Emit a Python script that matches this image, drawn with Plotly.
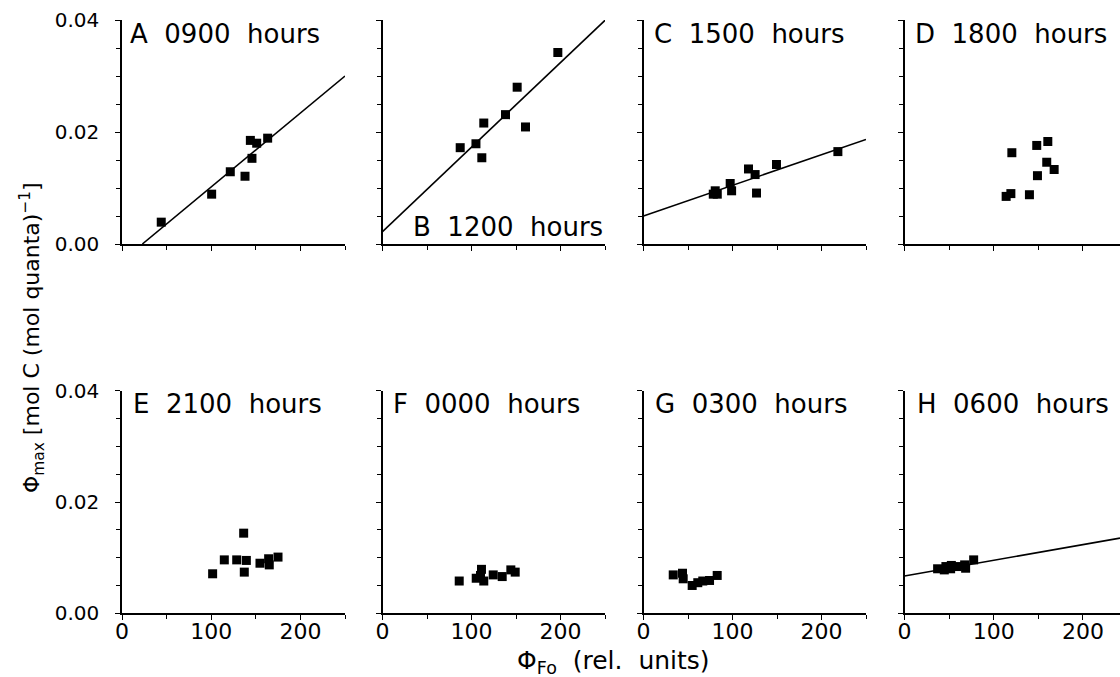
import plotly.graph_objects as go

W, H = 1120, 677
FONT = "DejaVu Sans"

# ---------------- data ----------------
labels = ["A\u00a0\u00a00900\u00a0\u00a0hours", "B\u00a0\u00a01200\u00a0\u00a0hours",
          "C\u00a0\u00a01500\u00a0\u00a0hours", "D\u00a0\u00a01800\u00a0\u00a0hours",
          "E\u00a0\u00a02100\u00a0\u00a0hours", "F\u00a0\u00a00000\u00a0\u00a0hours",
          "G\u00a0\u00a00300\u00a0\u00a0hours", "H\u00a0\u00a00600\u00a0\u00a0hours"]

xA = [44, 100.5, 121.4, 137.9, 143.9, 145.7, 151, 163.3]
yA = [0.0039, 0.0089, 0.0129, 0.0121, 0.0185, 0.0153, 0.0180, 0.0189]

xB = [97.8, 197, 151.3, 138.2, 113.8, 160.7, 105, 87.3, 111.6]
yB = [0.0402, 0.0342, 0.0280, 0.0231, 0.0216, 0.0209, 0.0179, 0.0172, 0.0154]

xC = [80.6, 82.9, 78.4, 97.4, 99, 118, 125.4, 127, 149.4, 218.4]
yC = [0.0095, 0.0089, 0.0089, 0.0108, 0.0095, 0.0134, 0.0124, 0.0091, 0.0142, 0.0165]

xD = [120.3, 148.2, 160.6, 159.4, 167.7, 149, 140, 119.2, 113.9]
yD = [0.0163, 0.0176, 0.0183, 0.0146, 0.0133, 0.0122, 0.0088, 0.0090, 0.0085]

xE = [136.4, 114.7, 128.6, 139.4, 137.1, 101.6, 154.7, 164.4, 165.1, 174.9]
yE = [0.0144, 0.0096, 0.0096, 0.0095, 0.0074, 0.0071, 0.0090, 0.0098, 0.0087, 0.0101]

xF = [86.2, 105.3, 111.2, 110.1, 113.8, 124.4, 134.5, 144.2, 149.1]
yF = [0.0058, 0.0063, 0.0079, 0.0068, 0.0058, 0.0069, 0.0066, 0.0078, 0.0074]

xG = [33.4, 43.8, 44.6, 54.7, 61, 66.6, 74.2, 82.8]
yG = [0.0069, 0.0072, 0.0062, 0.0050, 0.0055, 0.0058, 0.0059, 0.0068]

xH = [37.1, 44.6, 46.4, 51.7, 52.5, 59.2, 68.5, 77.5, 67.4]
yH = [0.0080, 0.0078, 0.0084, 0.0080, 0.0086, 0.0084, 0.0081, 0.0096, 0.0087]

# regression lines: panel -> (slope, intercept); None = no line
fit_slope = [0.000132, 0.000151, 0.0000547, None, None, None, None, 0.0000282]
fit_icept = [-0.00301, 0.0022, 0.0050, None, None, None, None, 0.0067]

xs_all = [xA, xB, xC, xD, xE, xF, xG, xH]
ys_all = [yA, yB, yC, yD, yE, yF, yG, yH]

x_max = [250, 250, 250, 241.5]
y_max = 0.04

# ---------------- layout geometry (pixels) ----------------
cols = [(122, 345), (382.5, 605), (643.5, 866), (904.5, 1120)]
rows = [(20, 244), (390.7, 613.3)]

def fx(p):
    return p / W

def fy(p):
    return 1 - p / H

fig = go.Figure()
layout = dict(
    width=W, height=H,
    margin=dict(l=0, r=0, t=0, b=0),
    paper_bgcolor="white", plot_bgcolor="white",
    showlegend=False,
    font=dict(family=FONT, color="black"),
    annotations=[],
)

for i in range(8):
    r, c = divmod(i, 4)
    n = i + 1
    xa = "x" if n == 1 else f"x{n}"
    ya = "y" if n == 1 else f"y{n}"
    xmax = x_max[c]

    fig.add_trace(go.Scatter(
        x=xs_all[i], y=ys_all[i], mode="markers", xaxis=xa, yaxis=ya,
        marker=dict(symbol="square", size=9, color="black", line=dict(width=0)),
        cliponaxis=False, hoverinfo="skip"))

    if fit_slope[i] is not None:
        m, b = fit_slope[i], fit_icept[i]
        x0 = max(0.0, -b / m)
        lx = [x0, xmax]
        ly = [m * v + b for v in lx]
        fig.add_trace(go.Scatter(
            x=lx, y=ly, mode="lines", xaxis=xa, yaxis=ya,
            line=dict(color="black", width=1.6), hoverinfo="skip"))

    xkey = "xaxis" if n == 1 else f"xaxis{n}"
    ykey = "yaxis" if n == 1 else f"yaxis{n}"
    layout[xkey] = dict(
        domain=[fx(cols[c][0]), fx(cols[c][1])], anchor=ya,
        range=[0, xmax], showgrid=False, zeroline=False,
        showline=True, linecolor="black", linewidth=1.5,
        ticks="outside", ticklen=5, tickwidth=1.3, tickcolor="black",
        tick0=0, dtick=100,
        minor=dict(dtick=50, ticks="outside", ticklen=4, tickwidth=1.2, tickcolor="black", showgrid=False),
        showticklabels=(r == 1), tickfont=dict(size=22, family=FONT, color="black"),
        ticklabelstandoff=-7, automargin=False, fixedrange=True,
    )
    layout[ykey] = dict(
        domain=[fy(rows[r][1]), fy(rows[r][0])], anchor=xa,
        range=[0, y_max], showgrid=False, zeroline=False,
        showline=True, linecolor="black", linewidth=1.5,
        ticks="outside", ticklen=5, tickwidth=1.3, tickcolor="black",
        tick0=0, dtick=0.02, tickformat=".2f",
        minor=dict(dtick=0.005, ticks="outside", ticklen=4, tickwidth=1.2, tickcolor="black", showgrid=False),
        showticklabels=(c == 0), tickfont=dict(size=20, family=FONT, color="black"),
        ticklabelstandoff=12, automargin=False, fixedrange=True,
    )

# panel labels (positions in pixels)
label_pos = [(128, 34, "left"), (605, 227, "right"), (652, 34, "left"), (913, 34, "left"),
             (131, 404, "left"), (391, 404, "left"), (653, 404, "left"), (915, 404, "left")]
for i, (px, py, anc) in enumerate(label_pos):
    layout["annotations"].append(dict(
        text=labels[i], x=fx(px), y=fy(py), xref="paper", yref="paper",
        xanchor=anc, yanchor="middle", showarrow=False,
        font=dict(size=26, family=FONT, color="black")))

# axis titles
layout["annotations"].append(dict(
    text="Φ<sub>Fo</sub>\u00a0\u00a0(rel.\u00a0\u00a0units)", x=fx(613), y=fy(662),
    xref="paper", yref="paper", xanchor="center", yanchor="middle",
    showarrow=False, font=dict(size=25, family=FONT, color="black")))
layout["annotations"].append(dict(
    text="Φ<sub>max</sub>\u00a0[mol\u00a0C\u00a0(mol\u00a0quanta)<sup>−1</sup>]",
    x=fx(32), y=fy(338), xref="paper", yref="paper", xanchor="center", yanchor="middle",
    textangle=-90, showarrow=False, font=dict(size=22, family=FONT, color="black")))

fig.update_layout(**layout)
fig.write_html("out.html")
